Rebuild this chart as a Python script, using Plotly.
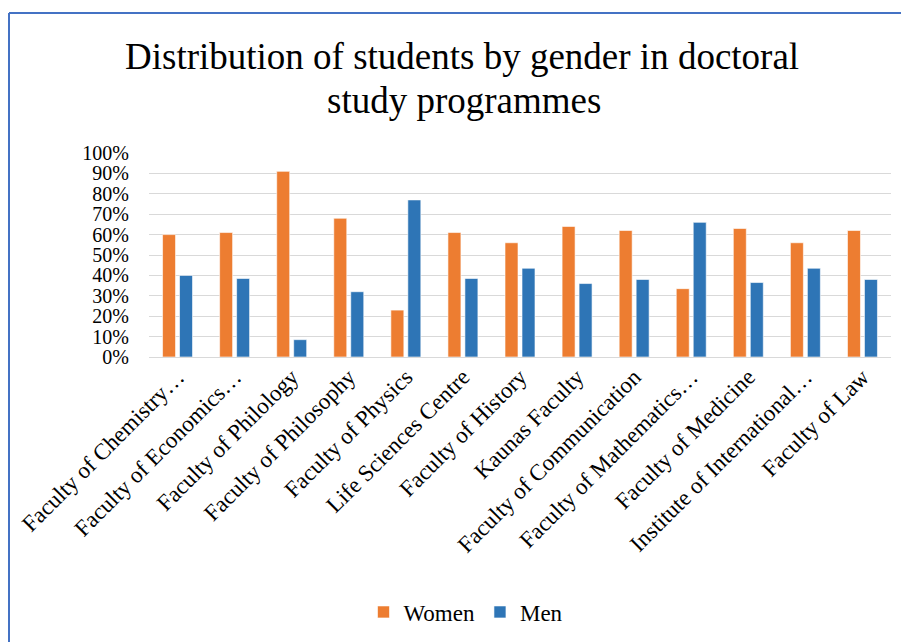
import plotly.graph_objects as go

categories = [
    "Faculty of Chemistry…", "Faculty of Economics…", "Faculty of Philology",
    "Faculty of Philosophy", "Faculty of Physics", "Life Sciences Centre",
    "Faculty of History", "Kaunas Faculty", "Faculty of Communication",
    "Faculty of Mathematics…", "Faculty of Medicine", "Institute of International…",
    "Faculty of Law",
]
women = [0.60, 0.61, 0.91, 0.68, 0.23, 0.61, 0.56, 0.64, 0.62, 0.335, 0.63, 0.56, 0.62]
men = [0.40, 0.385, 0.085, 0.32, 0.77, 0.385, 0.435, 0.36, 0.38, 0.66, 0.365, 0.435, 0.38]
tick_vals = [i / 10 for i in range(11)]
tick_text = [f"{i*10}%" for i in range(11)]
title_lines = ["Distribution of students by gender in doctoral", "study programmes"]

FONT = "Liberation Serif, Times New Roman, serif"

fig = go.Figure()
fig.add_trace(go.Bar(name="Women", x=categories, y=women,
                     marker=dict(color="#ED7D31", line=dict(color="rgba(255,255,255,0.6)", width=1))))
fig.add_trace(go.Bar(name="Men", x=categories, y=men,
                     marker=dict(color="#2E75B6", line=dict(color="rgba(255,255,255,0.6)", width=1))))

OFF = 8  # default page body margin
W, H = 909 - OFF, 642 - OFF
L, T = 149 - OFF, 153 - OFF
Rx, By = 891 - OFF, 357 - OFF
R, B = W - Rx, H - By
pw, ph = Rx - L, By - T

def px2x(px):
    return (px - OFF - L) / pw

def py2y(py):
    return (By - (py - OFF)) / ph

annotations = [
    dict(text=title_lines[0], xref="paper", yref="paper", x=px2x(462), y=py2y(57),
         xanchor="center", yanchor="middle", showarrow=False,
         font=dict(size=37, family=FONT, color="#000000")),
    dict(text=title_lines[1], xref="paper", yref="paper", x=px2x(464), y=py2y(100),
         xanchor="center", yanchor="middle", showarrow=False,
         font=dict(size=37, family=FONT, color="#000000")),
]

fig.update_layout(
    width=W, height=H,
    margin=dict(l=L, r=R, t=T, b=B, autoexpand=False),
    paper_bgcolor="white", plot_bgcolor="white",
    barmode="group", bargap=0.405, bargroupgap=0.235,
    font=dict(family=FONT, color="#000000"),
    annotations=annotations,
    xaxis=dict(tickangle=-45, tickfont=dict(size=23, family=FONT, color="#000000"),
               showgrid=False, showline=False, ticks="", ticklabelstandoff=1,
               automargin=False),
    yaxis=dict(range=[0, 1], tickvals=tick_vals, ticktext=tick_text,
               tickfont=dict(size=20, family=FONT, color="#000000"),
               showgrid=True, gridcolor="#D9D9D9", gridwidth=1,
               zeroline=True, zerolinecolor="#D9D9D9", zerolinewidth=1,
               showline=False, ticks="", ticklabelstandoff=19, automargin=False),
    legend=dict(orientation="h", x=px2x(466), xanchor="center", y=py2y(612), yanchor="middle",
                font=dict(size=23, family=FONT, color="#000000"), itemwidth=30,
                traceorder="normal"),
    shapes=[
        dict(type="line", xref="paper", yref="paper", x0=px2x(9), x1=px2x(925),
             y0=py2y(13), y1=py2y(13), line=dict(color="#4472C4", width=2)),
        dict(type="line", xref="paper", yref="paper", x0=px2x(9), x1=px2x(9),
             y0=py2y(13), y1=py2y(660), line=dict(color="#4472C4", width=2)),
    ],
)

fig.write_html("out.html")
